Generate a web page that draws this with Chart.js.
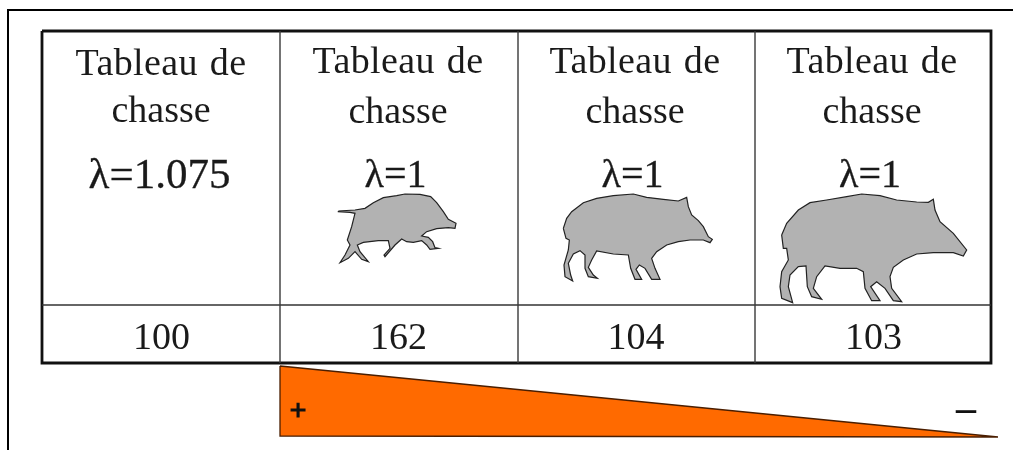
<!DOCTYPE html>
<html>
<head>
<meta charset="utf-8">
<script src="https://cdn.jsdelivr.net/npm/chart.js@4"></script>
<style>
  html, body { margin: 0; padding: 0; background: #fff; overflow: hidden; }
  canvas { display: block; }
</style>
</head>
<body>
<canvas id="tableau" width="1013" height="450"></canvas>
<script>
const titleLines = ["Tableau de", "chasse"];
const lambdas = ["1.075", "1", "1", "1"];
const tableau = ["100", "162", "104", "103"];
const gradientEnds = ["+", "–"];

// outlines, in 1/3 px
const smallBoar = [[55,93],[105,90],[135,85],[160,68],[190,53],[230,47],[255,42],[300,43],[332,50],[350,68],[370,95],[385,118],[408,130],[405,145],[385,143],[350,146],[320,155],[305,168],[325,172],[338,185],[345,203],[355,205],[330,208],[320,195],[305,182],[280,187],[260,185],[245,177],[225,195],[195,230],[192,225],[210,205],[205,182],[175,182],[130,187],[112,195],[120,215],[145,245],[125,238],[105,215],[85,235],[60,248],[75,225],[90,195],[82,180],[95,140],[105,100],[90,97],[55,95],[55,93]];
const mediumBoar = [[40,145],[50,115],[65,95],[100,68],[140,55],[190,47],[250,42],[290,52],[340,58],[385,63],[410,52],[415,80],[425,105],[445,122],[460,140],[475,170],[487,178],[480,188],[460,180],[420,180],[385,185],[350,195],[320,215],[305,235],[315,265],[330,298],[305,298],[285,265],[268,255],[258,268],[275,298],[255,298],[242,265],[235,225],[190,222],[140,213],[125,240],[115,262],[130,285],[142,295],[115,290],[105,265],[105,225],[90,212],[70,222],[55,250],[62,285],[68,303],[45,290],[42,255],[55,210],[58,180],[48,175],[40,145]];
const largeBoar = [[35,165],[50,130],[85,90],[120,68],[170,60],[230,50],[275,42],[330,47],[380,60],[440,66],[475,67],[490,58],[495,90],[510,125],[550,160],[590,210],[580,228],[550,218],[490,218],[440,222],[400,240],[370,262],[360,290],[365,325],[395,365],[370,362],[345,325],[320,305],[302,320],[330,362],[305,362],[285,325],[280,275],[260,265],[210,265],[165,258],[140,290],[130,325],[155,358],[125,350],[112,320],[108,258],[85,260],[60,285],[55,320],[68,368],[35,355],[30,320],[35,275],[55,240],[50,205],[40,205],[35,165]];

// layout, in picture pixels
const colEdges = [42, 280, 518, 755, 991];
const rowEdges = [31, 305, 363];
const titleCenters = [161, 398, 635, 872];
const lambdaCenters = [159.5, 395.5, 632.5, 870];
const countCenters = [161.5, 398.5, 636, 873.5];
const titleBaselines = [[75, 122], [73, 122.5], [73, 122.5], [73, 122.5]];
const wedge = [[280, 366], [998, 437], [280, 436], [280, 366]];
const boarOrigins = [[320, 180], [550, 180], [770, 180]];
const serif = '"Liberation Serif", "Times New Roman", serif';

const toPoints = pts => pts.map(p => ({ x: p[0], y: p[1] }));
const rule = (pts, width, color) => ({
  data: toPoints(pts), showLine: true, pointRadius: 0,
  borderColor: color, borderWidth: width, fill: false
});
const boar = (outline, origin) => ({
  data: outline.map(p => ({ x: origin[0] + p[0] / 3, y: origin[1] + p[1] / 3 })),
  showLine: true, pointRadius: 0, borderColor: "#222", borderWidth: 1.2,
  backgroundColor: "#b2b2b2", fill: "shape"
});

const datasets = [
  // page frame
  rule([[8, 450], [8, 10], [1013, 10]], 2, "#000"),
  // wedge
  {
    data: toPoints(wedge), showLine: true, pointRadius: 0, borderColor: "#4a1e00",
    borderWidth: 1.3, backgroundColor: "#ff6a00", fill: "shape"
  },
  boar(smallBoar, boarOrigins[0]),
  boar(mediumBoar, boarOrigins[1]),
  boar(largeBoar, boarOrigins[2]),
];
// inner table lines, then the thick outline
colEdges.slice(1, -1).forEach(x => datasets.push(rule([[x, rowEdges[0]], [x, rowEdges[2]]], 1.4, "#3a3a3a")));
datasets.push(rule([[colEdges[0], rowEdges[1]], [colEdges[4], rowEdges[1]]], 1.4, "#333"));
datasets.push(rule([[42, 31], [991, 31], [991, 363], [42, 363], [42, 31]], 2.8, "#111"));

const tableText = {
  id: "tableText",
  afterDatasetsDraw(chart) {
    const { ctx, scales: { x, y } } = chart;
    ctx.save();
    ctx.fillStyle = "#1a1a1a";
    ctx.strokeStyle = "#1a1a1a";
    ctx.textAlign = "center";
    ctx.textBaseline = "alphabetic";
    tableau.forEach((count, i) => {
      ctx.font = "38px " + serif;
      ctx.letterSpacing = "0.4px";
      ctx.wordSpacing = "2px";
      ctx.fillText(titleLines[0], x.getPixelForValue(titleCenters[i]), y.getPixelForValue(titleBaselines[i][0]));
      ctx.letterSpacing = "0px";
      ctx.wordSpacing = "0px";
      ctx.fillText(titleLines[1], x.getPixelForValue(titleCenters[i]), y.getPixelForValue(titleBaselines[i][1]));

      ctx.font = (i === 0 ? "43px " : "40px ") + serif;
      ctx.lineWidth = 0.3;
      const lx = x.getPixelForValue(lambdaCenters[i]);
      const ly = y.getPixelForValue(i === 0 ? 188 : 187);
      ctx.fillText("λ=" + lambdas[i], lx, ly);
      ctx.strokeText("λ=" + lambdas[i], lx, ly);

      ctx.font = "38px " + serif;
      ctx.fillText(count, x.getPixelForValue(countCenters[i]), y.getPixelForValue(349));
    });
    ctx.fillStyle = "#111";
    ctx.strokeStyle = "#111";
    ctx.font = "bold 30px " + serif;
    ctx.lineWidth = 1;
    ctx.fillText(gradientEnds[0], x.getPixelForValue(298), y.getPixelForValue(420));
    ctx.strokeText(gradientEnds[0], x.getPixelForValue(298), y.getPixelForValue(420));
    ctx.font = "bold 40px " + serif;
    ctx.fillText(gradientEnds[1], x.getPixelForValue(966), y.getPixelForValue(421));
    ctx.restore();
  }
};

new Chart("tableau", {
  type: "scatter",
  data: { datasets },
  options: {
    responsive: false,
    animation: false,
    layout: { padding: 0 },
    plugins: { legend: { display: false }, title: { display: false }, tooltip: { enabled: false } },
    scales: {
      x: { type: "linear", display: false, min: 0, max: 1013 },
      y: { type: "linear", display: false, min: 0, max: 450, reverse: true }
    }
  },
  plugins: [tableText]
});
</script>
</body>
</html>
